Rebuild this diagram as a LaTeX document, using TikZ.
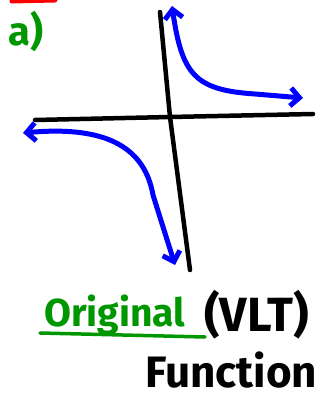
\documentclass[tikz,border=0pt]{standalone}
\usepackage{fontspec}
\setmainfont{Fira Sans}
\usepackage{xcolor}
\usepackage{tikz}
\usetikzlibrary{arrows.meta}
\definecolor{inkgreen}{RGB}{0,150,0}
\definecolor{inkblue}{RGB}{0,0,255}
\tikzset{
  grax/.style={line width=4.5pt, draw=black, line cap=round},
  grbranch/.style={line width=5pt, draw=inkblue, line cap=round, line join=round,
    {Straight Barb[length=9pt,width=18pt,line width=5pt]}-{Straight Barb[length=9pt,width=18pt,line width=5pt]}},
  grmark/.style={line width=5pt, draw=red, line cap=round},
  grtext/.style={inner sep=0pt, anchor=base west},
}

\begin{document}
\begin{tikzpicture}[x=1pt,y=-1pt]
\useasboundingbox (0,0) rectangle (328,398);
\draw[grmark] (12,1) -- (55,0);
\node[grtext, text=inkgreen, font=\bfseries\fontsize{40}{40}\selectfont] (part) at (8,46) {a)};
\draw[grax] (35,120) -- (170,117) -- (313,114);
\draw[grax] (160,12) -- (170,117) -- (190,270);
\draw[grbranch] (172,6) .. controls (182,75) and (195,90) .. (255,94) -- (303,98);
\draw[grbranch] (23,133) .. controls (110,125) and (145,150) .. (153,195) -- (175,265);
\node[grtext, text=inkgreen, font=\bfseries\fontsize{39}{39}\selectfont] (orig) at (44,326) {Original};
\draw[line width=3.5pt, draw=inkgreen, line cap=round] (40,333) -- (205,337);
\node[grtext, font=\bfseries\fontsize{48}{48}\selectfont] (vlt) at (204,331) {(VLT)};
\node[grtext, font=\bfseries\fontsize{44}{44}\selectfont] (func) at (145,387) {Function};
\end{tikzpicture}
\end{document}
